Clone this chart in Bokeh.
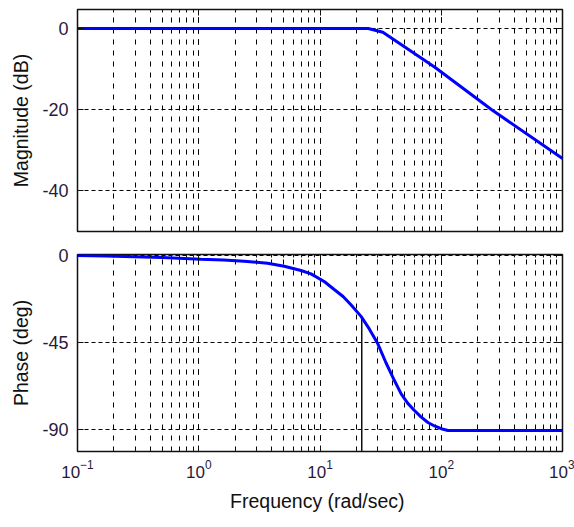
from bokeh.plotting import figure
from bokeh.layouts import column
from bokeh.models import LogAxis, LinearAxis, LogTicker, FixedTicker, Range1d
from bokeh.embed import file_html
from bokeh.resources import INLINE

# ---- data ----
mag_freq = [0.1, 25.0, 33.0, 88.0, 259.0, 1000.0]
mag_db = [0.0, 0.0, -0.9, -9.5, -20.0, -32.1]

phase_freq = [0.1, 0.17, 0.5, 1.04, 1.6, 2.37, 3.69, 5.07, 6.97, 8.43, 10.9, 13.1,
              15.5, 18.0, 21.8, 25.5, 30.0, 35.0, 41.1, 46.7, 53.0, 60.1, 68.0,
              77.6, 88.0, 100.0, 113.5, 1000.0]
phase_deg = [0.0, -0.3, -1.0, -2.0, -2.4, -3.0, -4.0, -5.6, -7.8, -9.5, -13.6, -17.6,
             -21.2, -25.5, -31.5, -38.0, -45.7, -55.5, -64.7, -71.6, -76.5, -80.2, -83.5,
             -86.4, -88.2, -89.6, -90.5, -90.5]

marker_freq = 22.1
marker_phase = -32.0

x_limits = [0.1, 1000.0]
mag_limits = [-50.1, 4.7]
phase_limits = [-101.4, 0.5]
mag_ticks = [-40, -20, 0]
mag_tick_labels = ["-40", "-20", "0"]
phase_ticks = [-90, -45, 0]
phase_tick_labels = ["-90", "-45", "0"]

FONT = "Liberation Sans"
Y_TICK_SIZE = "18px"
X_TICK_SIZE = "17px"
LABEL_SIZE = "19.5px"
INK = "#111111"


def hide_labels(ax):
    ax.major_label_text_font_size = "1px"
    ax.major_label_text_color = None
    ax.major_label_standoff = 0


def make_fig(height, y_limits, y_ticks, y_tick_labels, y_label, top_b, bottom_b, x_labels):
    p = figure(width=574, height=height, x_axis_type="log",
               x_range=Range1d(*x_limits), y_range=Range1d(*y_limits),
               output_backend="svg", toolbar_location=None,
               min_border_left=77, min_border_right=12,
               min_border_top=top_b, min_border_bottom=bottom_b)
    p.background_fill_color = "white"
    p.border_fill_color = "white"
    p.outline_line_color = INK
    p.outline_line_width = 1.5

    bottom = p.below[0]
    left = p.left[0]

    xt = LogTicker(num_minor_ticks=10)
    yt = FixedTicker(ticks=y_ticks)

    top = LogAxis(ticker=xt)
    right = LinearAxis(ticker=yt)
    p.add_layout(top, "above")
    p.add_layout(right, "right")

    for ax in [bottom, top]:
        ax.ticker = xt
        ax.major_tick_in = 6
        ax.major_tick_out = 0
        ax.minor_tick_in = 3
        ax.minor_tick_out = 0
        ax.major_tick_line_color = INK
        ax.minor_tick_line_color = INK
        ax.axis_line_color = None
    for ax in [left, right]:
        ax.ticker = yt
        ax.major_tick_in = 6
        ax.major_tick_out = 0
        ax.minor_tick_line_color = None
        ax.major_tick_line_color = INK
        ax.axis_line_color = None

    hide_labels(top)
    hide_labels(right)

    if not x_labels:
        hide_labels(bottom)
    else:
        bottom.major_label_text_font = FONT
        bottom.major_label_text_font_size = X_TICK_SIZE
        bottom.major_label_text_color = "#2a1a3a"
        bottom.major_label_standoff = 8
        bottom.axis_label = "Frequency  (rad/sec)"
        bottom.axis_label_text_font = FONT
        bottom.axis_label_text_font_size = LABEL_SIZE
        bottom.axis_label_text_font_style = "normal"
        bottom.axis_label_text_color = INK
        bottom.axis_label_standoff = 9

    left.major_label_overrides = dict(zip(y_ticks, y_tick_labels))
    left.major_label_text_font = FONT
    left.major_label_text_font_size = Y_TICK_SIZE
    left.major_label_text_color = "#2a1a3a"
    left.major_label_standoff = 9
    left.axis_label = y_label
    left.axis_label_text_font = FONT
    left.axis_label_text_font_size = LABEL_SIZE
    left.axis_label_text_font_style = "normal"
    left.axis_label_text_color = INK
    left.axis_label_standoff = 7

    p.xgrid.ticker = xt
    p.xgrid.grid_line_color = "black"
    p.xgrid.grid_line_dash = "5 6"
    p.xgrid.grid_line_width = 1
    p.xgrid.minor_grid_line_color = "black"
    p.xgrid.minor_grid_line_dash = "5 6"
    p.xgrid.minor_grid_line_width = 1
    p.ygrid.ticker = yt
    p.ygrid.grid_line_color = "black"
    p.ygrid.grid_line_dash = "4 3"
    p.ygrid.grid_line_width = 1
    return p


p1 = make_fig(242, mag_limits, mag_ticks, mag_tick_labels, "Magnitude (dB)", 9, 11, False)
p1.line(mag_freq, mag_db, line_color="#0000ff", line_width=3)

p2 = make_fig(285, phase_limits, phase_ticks, phase_tick_labels, "Phase (deg)", 12, 76, True)
p2.segment(x0=[marker_freq], y0=[marker_phase], x1=[marker_freq], y1=[phase_limits[0]],
           line_color=INK, line_width=1.5)
p2.line(phase_freq, phase_deg, line_color="#0000ff", line_width=3)

layout = column(p1, p2, spacing=0)
open("out.html", "w").write(file_html(layout, INLINE))
